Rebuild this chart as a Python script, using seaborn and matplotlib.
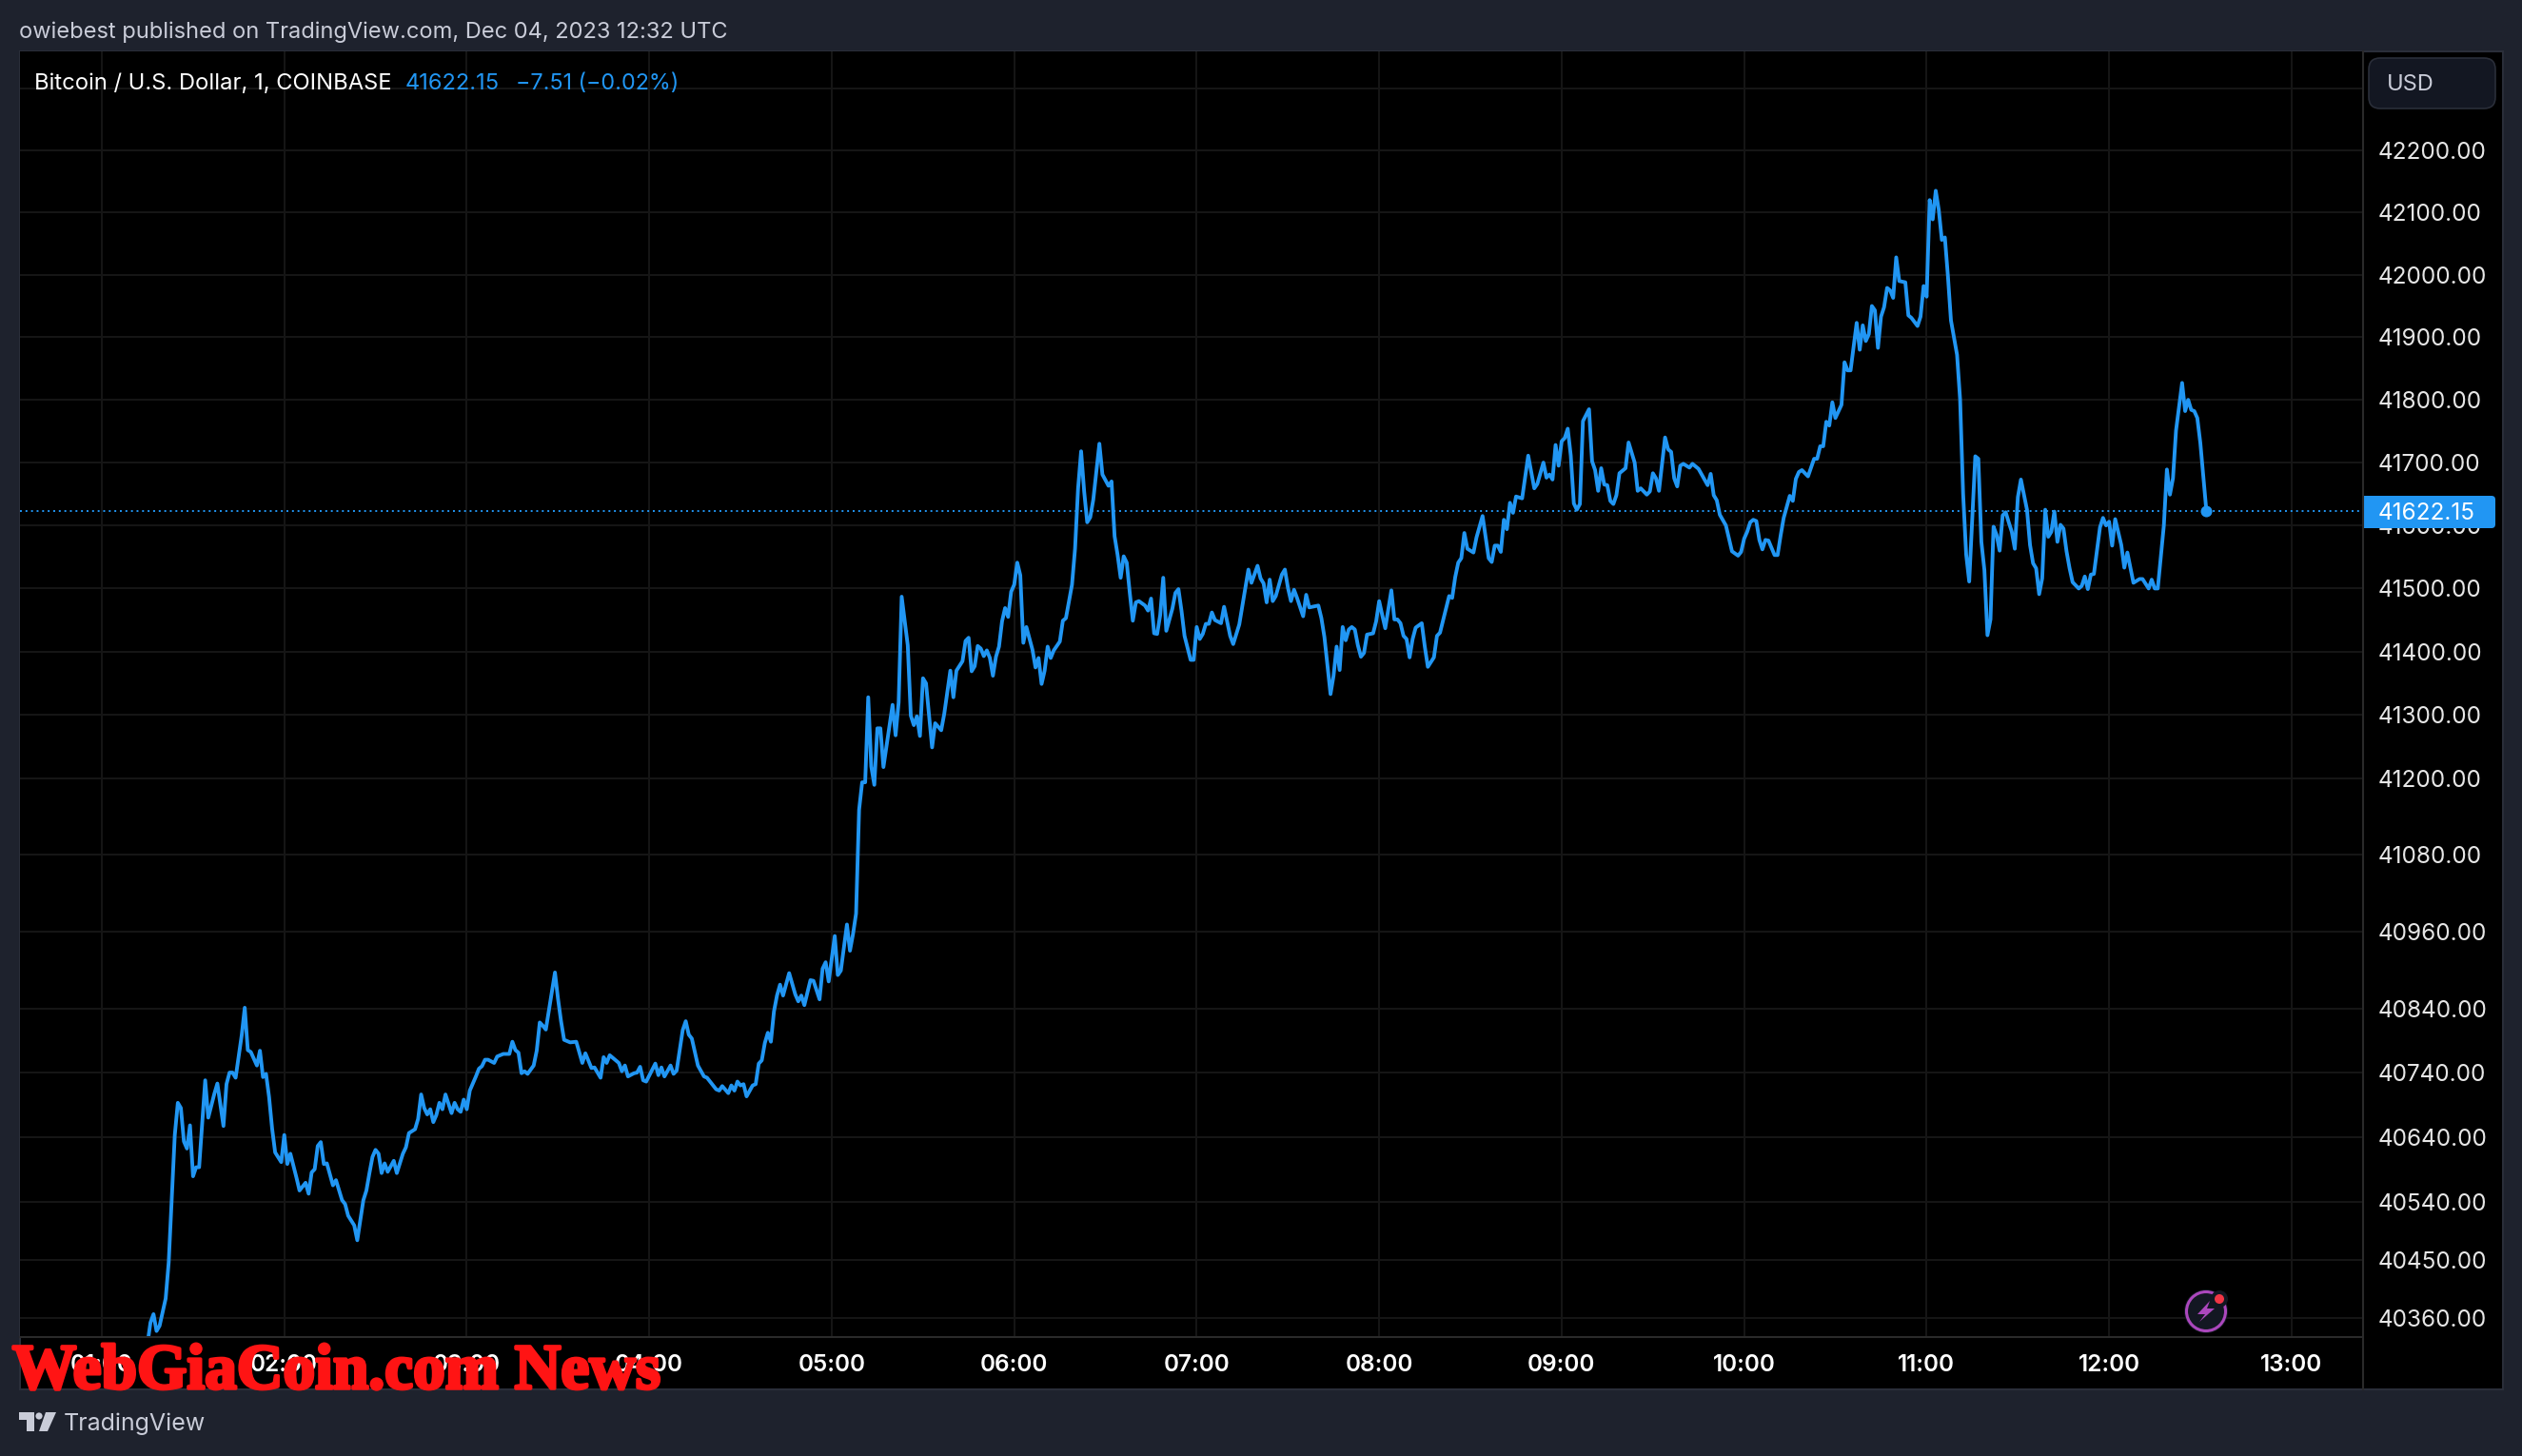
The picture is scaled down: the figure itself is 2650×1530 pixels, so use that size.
import matplotlib
matplotlib.use("Agg")
import matplotlib.pyplot as plt
import matplotlib.patheffects as pe
from matplotlib.patches import Rectangle, FancyBboxPatch, Circle, Polygon
import pandas as pd
import seaborn as sns

# minutes after 00:00 UTC
minutes = [75, 76, 77, 78, 79, 81, 82, 84, 85, 86, 87, 88, 89, 90, 91, 92, 94, 95, 97, 98,
           100, 101, 102, 103, 104, 106, 107, 108, 109, 111, 112, 113, 114, 115, 116, 117, 119, 120, 121, 122,
           124, 125, 127, 128, 129, 130, 131, 132, 133, 134, 136, 137, 139, 140, 141, 143, 144, 146, 147, 148,
           149, 150, 151, 152, 153, 154, 156, 157, 159, 160, 161, 163, 164, 165, 166, 167, 168, 169, 170, 171,
           172, 173, 175, 176, 177, 178, 179, 180, 181, 183, 184, 185, 186, 187, 189, 190, 192, 194, 195, 196,
           197, 198, 199, 200, 202, 203, 204, 205, 206, 209, 210, 211, 212, 214, 216, 218, 219, 221, 222, 224,
           225, 226, 227, 229, 230, 231, 232, 233, 235, 236, 237, 238, 239, 242, 243, 244, 245, 247, 248, 249,
           251, 252, 253, 254, 256, 258, 259, 262, 263, 264, 266, 267, 268, 269, 270, 271, 272, 274, 275, 276,
           277, 278, 279, 280, 281, 282, 283, 284, 286, 288, 289, 290, 291, 293, 294, 296, 297, 298, 299, 301,
           302, 303, 305, 306, 307, 308,
           309, 310, 311, 312, 313, 314, 315, 316, 317, 320, 321, 322, 323, 325, 326, 327, 328, 329, 330, 331,
           333, 334, 336, 337, 339, 340, 341, 343, 344, 345, 346, 347, 348, 349, 350, 351, 352, 353, 354, 355,
           356, 357, 358, 359, 360, 361, 362, 363, 364, 366, 367, 368, 369, 370, 371, 372, 373, 375, 376, 377,
           379, 380, 381, 382, 383, 384, 385, 386, 388, 389, 391, 392, 393, 394, 395, 396, 397, 398, 399, 400,
           401, 403, 404, 405, 406, 407, 408, 409, 410, 412, 413, 414, 415, 416, 418, 419, 420, 421, 422, 423,
           424, 425, 426, 428, 429, 431, 432, 434, 437, 438, 440, 441, 442, 443, 444, 445, 446, 448, 449, 450,
           451, 452, 453, 455, 456, 457, 460, 461, 462, 464, 465, 466, 467, 468, 469, 470, 471, 472, 473, 474,
           475, 476, 478, 479, 480, 481, 482, 484, 485, 486, 487, 488, 489, 490, 491, 492, 494, 495, 496, 498,
           499, 500, 503, 504, 505, 506, 507, 508, 509, 511, 512, 514, 516, 517, 518, 519, 520, 521, 522, 523,
           524, 525, 527, 529, 531, 532, 534, 535, 536, 537, 538, 539, 540, 541, 542,
           543, 544, 545, 546, 547, 549, 550, 551, 552, 553, 554, 555, 556, 557, 558, 559, 561, 562, 564, 565,
           566, 568, 569, 570, 571, 572, 574, 575, 576, 577, 578, 579, 580, 582, 583, 585, 588, 589, 590, 591,
           592, 594, 596, 598, 599, 600, 601, 602, 603, 604, 605, 606, 607, 608, 610, 611, 612, 613, 615, 616,
           617, 618, 619, 621, 623, 624, 625, 626, 627, 628, 629, 630, 632, 633, 634, 635, 637, 638, 639, 640,
           641, 642, 643, 644, 645, 646, 647, 648, 649, 650, 651, 653, 654, 655, 657, 658, 659, 660, 661, 662,
           663, 664, 665, 666, 667, 668, 670, 671, 672, 673, 674, 676, 677, 678, 679, 680, 681, 682, 683, 684,
           685, 686, 687, 688, 689, 690, 691, 693, 694, 695, 696, 697, 698, 699, 700, 701, 702, 703, 704, 705,
           706, 707, 708, 710, 711, 712, 713, 714, 715, 717, 718, 719, 720, 721, 722, 724, 725, 726, 728, 730,
           731, 733, 734, 735, 736, 738, 739, 740, 741, 742, 744, 745, 746, 747, 748, 749, 750, 752]

prices = [40320, 40353, 40366, 40340, 40348, 40390, 40446, 40643, 40693, 40685, 40633, 40622, 40658, 40579, 40593, 40593, 40728, 40670, 40707, 40723,
          40657, 40722, 40740, 40740, 40732, 40798, 40841, 40775, 40772, 40751, 40774, 40733, 40738, 40702, 40653, 40616, 40601, 40643, 40598, 40614,
          40577, 40557, 40569, 40552, 40585, 40590, 40626, 40632, 40598, 40599, 40565, 40573, 40542, 40536, 40518, 40503, 40480, 40542, 40557, 40584,
          40609, 40620, 40614, 40584, 40599, 40586, 40603, 40584, 40614, 40624, 40646, 40652, 40668, 40706, 40685, 40675, 40683, 40663, 40674, 40693,
          40683, 40706, 40677, 40693, 40683, 40679, 40698, 40683, 40712, 40734, 40746, 40750, 40760, 40760, 40755, 40765, 40769, 40769, 40788, 40775,
          40771, 40739, 40742, 40738, 40751, 40774, 40818, 40813, 40807, 40896, 40855, 40820, 40791, 40787, 40788, 40755, 40770, 40747, 40748, 40732,
          40764, 40755, 40767, 40759, 40755, 40742, 40751, 40734, 40739, 40740, 40749, 40728, 40726, 40754, 40736, 40748, 40734, 40751, 40738, 40743,
          40806, 40820, 40799, 40793, 40751, 40734, 40732, 40714, 40712, 40719, 40708, 40720, 40712, 40726, 40720, 40722, 40703, 40720, 40722, 40754,
          40759, 40786, 40802, 40788, 40835, 40860, 40877, 40860, 40895, 40862, 40851, 40860, 40845, 40884, 40883, 40854, 40902, 40912, 40882, 40953,
          40892, 40899, 40971, 40930, 40956, 40988,
          41151, 41194, 41194, 41328, 41219, 41190, 41279, 41279, 41218, 41316, 41268, 41320, 41487, 41410, 41299, 41284, 41298, 41267, 41358, 41350,
          41249, 41287, 41276, 41302, 41370, 41328, 41370, 41385, 41417, 41422, 41369, 41377, 41409, 41405, 41393, 41402, 41390, 41362, 41392, 41408,
          41448, 41469, 41455, 41495, 41506, 41541, 41521, 41414, 41439, 41403, 41375, 41390, 41349, 41370, 41408, 41390, 41402, 41416, 41449, 41453,
          41506, 41563, 41659, 41718, 41654, 41605, 41613, 41641, 41730, 41681, 41663, 41670, 41583, 41553, 41517, 41551, 41541, 41493, 41449, 41478,
          41480, 41473, 41465, 41484, 41429, 41428, 41458, 41517, 41433, 41468, 41493, 41499, 41465, 41425, 41387, 41387, 41439, 41420, 41428, 41444,
          41444, 41462, 41450, 41445, 41471, 41425, 41412, 41443, 41530, 41509, 41536, 41516, 41508, 41478, 41514, 41480, 41488, 41522, 41530, 41501,
          41480, 41498, 41485, 41456, 41490, 41470, 41473, 41453, 41423, 41333, 41362, 41408, 41371, 41439, 41418, 41435, 41439, 41435, 41410, 41392,
          41398, 41427, 41429, 41448, 41480, 41458, 41437, 41497, 41451, 41451, 41445, 41425, 41420, 41391, 41420, 41438, 41445, 41408, 41376, 41391,
          41425, 41430, 41488, 41485, 41518, 41541, 41548, 41588, 41563, 41557, 41581, 41615, 41548, 41542, 41568, 41568, 41558, 41609, 41594, 41636,
          41620, 41646, 41643, 41711, 41659, 41666, 41700, 41676, 41681, 41673, 41728, 41695, 41734, 41739, 41754,
          41711, 41635, 41625, 41634, 41766, 41785, 41702, 41688, 41655, 41691, 41665, 41664, 41639, 41634, 41648, 41683, 41691, 41732, 41700, 41655,
          41659, 41649, 41654, 41683, 41675, 41655, 41740, 41721, 41717, 41675, 41662, 41695, 41698, 41692, 41698, 41690, 41664, 41682, 41648, 41640,
          41617, 41600, 41559, 41552, 41558, 41579, 41590, 41605, 41609, 41607, 41577, 41562, 41577, 41576, 41553, 41553, 41584, 41612, 41647, 41639,
          41674, 41685, 41688, 41678, 41706, 41706, 41726, 41726, 41765, 41759, 41796, 41771, 41792, 41860, 41847, 41847, 41923, 41880, 41919, 41894,
          41905, 41950, 41943, 41883, 41933, 41948, 41979, 41975, 41963, 42028, 41990, 41988, 41935, 41931, 41918, 41933, 41982, 41965, 42120, 42089,
          42135, 42104, 42056, 42060, 41998, 41927, 41872, 41801, 41650, 41554, 41511, 41710, 41706, 41574, 41529, 41426, 41451, 41598, 41585, 41560,
          41616, 41621, 41605, 41590, 41563, 41645, 41673, 41625, 41569, 41540, 41532, 41491, 41516, 41625, 41582, 41590, 41622, 41574, 41601, 41595,
          41559, 41532, 41510, 41500, 41504, 41519, 41499, 41522, 41523, 41597, 41612, 41600, 41606, 41568, 41610, 41569, 41533, 41557, 41509, 41515,
          41515, 41500, 41514, 41500, 41500, 41600, 41689, 41649, 41675, 41751, 41827, 41782, 41800, 41784, 41782, 41771, 41731, 41622.15]

last_price = 41622.15

price_ticks = [42300, 42200, 42100, 42000, 41900, 41800, 41700, 41600, 41500, 41400, 41300, 41200,
               41080, 40960, 40840, 40740, 40640, 40540, 40450, 40360]
price_labels = [""] + [f"{p}.00" for p in price_ticks[1:]]
hour_ticks = [60, 120, 180, 240, 300, 360, 420, 480, 540, 600, 660, 720, 780]
hour_labels = ["01:00", "02:00", "03:00", "04:00", "05:00", "06:00", "07:00", "08:00", "09:00",
               "10:00", "11:00", "12:00", "13:00"]

W, H = 2650, 1530
BG = "#1e222d"
BLUE = "#2196f3"
GRID = "#161616"
BORDER = "#2a2e39"
LIGHT = "#c9ccd8"

sns.set_theme(style="dark")
plt.rcParams["font.family"] = ["Inter", "DejaVu Sans"]

fig = plt.figure(figsize=(W / 100, H / 100), dpi=100, facecolor=BG)

# black panel behind everything, in pixels
back = fig.add_axes([0, 0, 1, 1], zorder=-1)
back.set_xlim(0, W)
back.set_ylim(H, 0)
back.axis("off")
back.add_patch(Rectangle((21, 54), 2609, 1406, facecolor="black", edgecolor=BORDER, lw=1.5))

ax = fig.add_axes([21 / W, 1 - 1405 / H, (2483 - 21) / W, (1405 - 54) / H], zorder=1, facecolor="black")
df = pd.DataFrame({"minute": minutes, "price": prices})
sns.lineplot(data=df, x="minute", y="price", ax=ax, color=BLUE, linewidth=2.8, estimator=None, sort=False,
             solid_joinstyle="round", zorder=4)
sns.scatterplot(x=[minutes[-1]], y=[last_price], ax=ax, color=BLUE, s=75, linewidth=0, zorder=5)
ax.axhline(last_price, color=BLUE, lw=1.4, linestyle=(0, (1, 2)), zorder=3)

ax.set_yscale("log")
ax.set_xlim(33.1, 803.5)
ax.set_ylim(40330.7, 42359.8)
ax.set_yticks(price_ticks, labels=price_labels)
ax.minorticks_off()
ax.set_xticks(hour_ticks, labels=hour_labels)
ax.yaxis.tick_right()
ax.set_xlabel("")
ax.set_ylabel("")
ax.grid(True, color=GRID, lw=1.4)
ax.set_axisbelow(True)
ax.tick_params(axis="y", length=0, pad=11.5, labelsize=17.5, labelcolor="#e6e6e6")
ax.tick_params(axis="x", length=0, pad=13, labelsize=17.5, labelcolor="white")
for t in ax.get_xticklabels():
    t.set_fontweight("semibold")
for s in ax.spines.values():
    s.set_visible(False)

# overlay for header, price tag, logo and so on
top = fig.add_axes([0, 0, 1, 1], zorder=5)
top.set_xlim(0, W)
top.set_ylim(H, 0)
top.axis("off")
top.patch.set_alpha(0)

top.plot([21, 2483], [1405, 1405], color="#2a2a2a", lw=1.5)
top.plot([2483, 2483], [54, 1460], color="#2a2a2a", lw=1.5)

top.text(20, 33.5, "owiebest published on TradingView.com, Dec 04, 2023 12:32 UTC", color=LIGHT, fontsize=17, va="center")
top.text(36, 87.5, "Bitcoin / U.S. Dollar, 1, COINBASE", color="white", fontsize=17.1, va="center")
top.text(426, 87.5, "41622.15", color=BLUE, fontsize=17, va="center")
top.text(542, 87.5, "\u22127.51 (\u22120.02%)", color=BLUE, fontsize=16.8, va="center")

top.add_patch(FancyBboxPatch((2499, 71), 113, 33, boxstyle="round,pad=10,rounding_size=12", facecolor="#131722", edgecolor=BORDER, lw=1.2))
top.text(2508, 89, "USD", color=LIGHT, fontsize=17, va="center")

# last price tag
top.add_patch(FancyBboxPatch((2486, 525), 132, 26, boxstyle="round,pad=4,rounding_size=4", facecolor=BLUE, edgecolor="none"))
top.add_patch(Rectangle((2482, 521), 12, 34, facecolor=BLUE, edgecolor="none"))
top.text(2499, 539, "41622.15", color="white", fontsize=17.5, va="center")

# lightning badge
top.add_patch(Circle((2318, 1378), 23, facecolor="#131722", edgecolor="none"))
top.add_patch(Circle((2318, 1378), 20.5, facecolor="none", edgecolor="#ab47bc", lw=2.2))
top.add_patch(Polygon([[2322, 1367], [2309, 1381], [2317, 1381], [2311, 1389], [2327, 1375], [2319, 1375]],
                      facecolor="#ab47bc", edgecolor="none"))
top.add_patch(Circle((2332, 1365), 9, facecolor="#131722", edgecolor="none"))
top.add_patch(Circle((2332, 1365), 5, facecolor="#f23645", edgecolor="none"))

# TradingView logo and name
top.add_patch(Polygon([[20, 1484], [36, 1484], [36, 1504], [28, 1504], [28, 1492], [20, 1492]], facecolor=LIGHT, edgecolor="none"))
top.add_patch(Circle((41, 1488), 3.6, facecolor=LIGHT, edgecolor="none"))
top.add_patch(Polygon([[48, 1484], [59, 1484], [50, 1504], [41, 1504]], facecolor=LIGHT, edgecolor="none"))
top.text(67, 1496, "TradingView", color=LIGHT, fontsize=18, va="center")

# red watermark across the time axis
wm = top.text(13, 1459, "WebGiaCoin.com News", color="#ff1414", family="Liberation Serif", fontweight="bold", fontsize=48.5, va="baseline")
wm.set_path_effects([pe.withStroke(linewidth=2.5, foreground="#ff1414")])

fig.savefig("out.png", dpi=100, facecolor=BG)
